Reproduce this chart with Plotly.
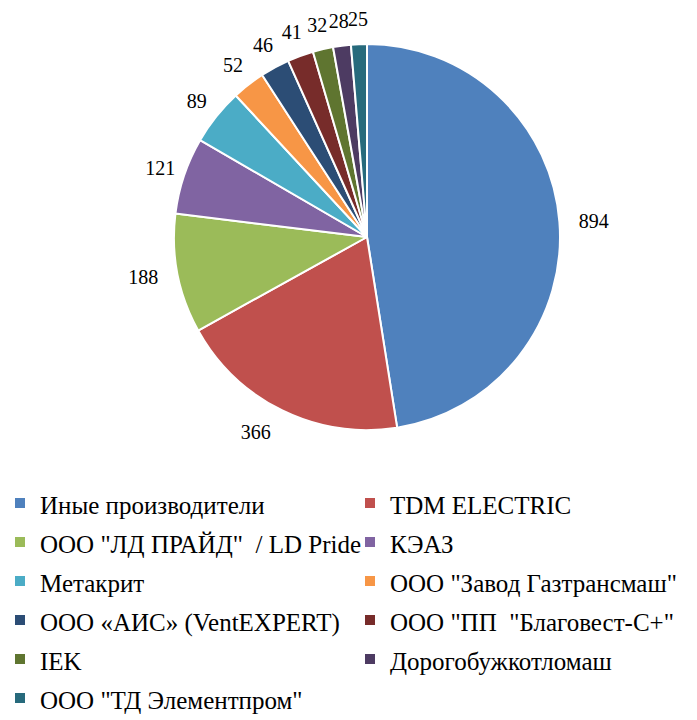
import plotly.graph_objects as go

labels = ["Иные производители", "TDM ELECTRIC", "ООО \"ЛД ПРАЙД\"  / LD Pride", "КЭАЗ",
          "Метакрит", "ООО \"Завод Газтрансмаш\"", "ООО «АИС» (VentEXPERT)",
          "ООО \"ПП  \"Благовест-С+\"", "IEK", "Дорогобужкотломаш", "ООО \"ТД Элементпром\""]
values = [894, 366, 188, 121, 89, 52, 46, 41, 32, 28, 25]
colors = ["#4F81BD", "#C0504D", "#9BBB59", "#8064A2", "#4BACC6", "#F79646",
          "#2C4D75", "#772C2A", "#5F7530", "#4D3B62", "#276A7C"]

W, H = 697, 720
ML, MB = 4, 250
PW, PH = W - ML, H - MB
cx, cy, r = 367, 237, 193      # pie centre / radius (px)
RL = 226                       # outer radius of the invisible label ring (small slices)
RO = 207                       # radius of invisible pie whose outside labels serve big slices
N_BIG = 3
SERIF = "Liberation Serif, Times New Roman, serif"
LEG_TOP = 478.5


def dom(rad):
    return dict(x=[(cx - rad - ML) / PW, (cx + rad - ML) / PW],
                y=[1 - (cy + rad) / PH, 1 - (cy - rad) / PH])


legend_text = [f"<span style='font-size:25px'>{t}</span>" for t in labels]
clear = ["rgba(0,0,0,0)"] * len(values)
lab_font = dict(family=SERIF, size=20, color="black")

fig = go.Figure()
fig.add_trace(go.Pie(
    labels=legend_text, values=values, sort=False, direction="clockwise", rotation=0,
    marker=dict(colors=colors, line=dict(color="white", width=2)),
    textinfo="none", domain=dom(r),
))
# invisible pie: outside value labels for the large slices
fig.add_trace(go.Pie(
    labels=legend_text, values=values, sort=False, direction="clockwise", rotation=0,
    showlegend=False, hoverinfo="skip",
    marker=dict(colors=clear, line=dict(width=0)),
    textinfo="value",
    textposition=["outside" if i < N_BIG else "none" for i in range(len(values))],
    textfont=lab_font, outsidetextfont=lab_font, automargin=False,
    domain=dom(RO),
))
# invisible thin ring: value labels for the small slices
fig.add_trace(go.Pie(
    labels=legend_text, values=values, sort=False, direction="clockwise", rotation=0,
    hole=0.93, showlegend=False, hoverinfo="skip",
    marker=dict(colors=clear, line=dict(width=0)),
    textinfo="value",
    textposition=["none" if i < N_BIG else "inside" for i in range(len(values))],
    insidetextorientation="horizontal",
    textfont=lab_font, insidetextfont=lab_font,
    domain=dom(RL),
))
fig.update_layout(
    width=W, height=H, margin=dict(l=ML, r=0, t=0, b=MB, autoexpand=False),
    paper_bgcolor="white", plot_bgcolor="white",
    uniformtext=dict(minsize=20, mode="show"),
    showlegend=True,
    legend=dict(orientation="h", x=-ML / PW, xanchor="left", y=-(LEG_TOP - PH) / PH, yanchor="top",
                entrywidth=305, entrywidthmode="pixels",
                font=dict(family=SERIF, size=27.7, color="black"),
                traceorder="normal"),
)
fig.write_html("out.html", config={"displayModeBar": False},
               post_script="document.body.style.margin='0';")
